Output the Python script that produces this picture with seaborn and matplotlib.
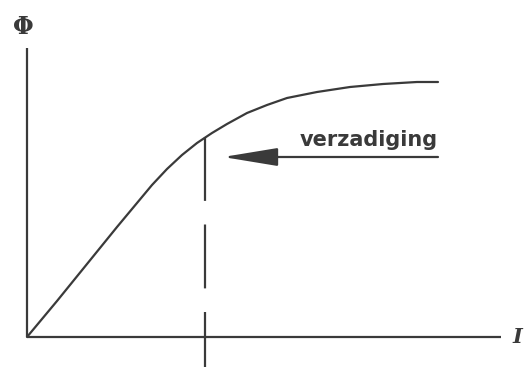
import matplotlib
matplotlib.use("Agg")
import matplotlib.pyplot as plt
import seaborn as sns
import pandas as pd

# Magnetisation curve: current I vs flux Phi (arbitrary units)
current_I = [0, 30, 60, 90, 110, 125, 140, 155, 170, 185, 200, 220, 240, 260, 290, 323, 356, 390, 411]
flux_phi = [0, 36, 73, 110, 134, 152, 168, 182, 194, 204, 213, 224, 232, 239, 245, 250, 253, 255, 255]

saturation_I = 178
saturation_phi = 200
label_text = "verzadiging"
x_label = "I"
y_label = "Φ"

sns.set_style("white")
plt.rcParams['font.family'] = ['DejaVu Sans']
plt.rcParams['lines.scale_dashes'] = False

fig = plt.figure(figsize=(5.28, 3.67), dpi=100)
ax = fig.add_axes([0, 0, 1, 1])
ax.set_xlim(-27, 501)
ax.set_ylim(-30, 337)
ax.axis("off")

col = "#3a3a3a"
lw = 1.6

df = pd.DataFrame({"I": current_I, "Phi": flux_phi})
sns.lineplot(data=df, x="I", y="Phi", ax=ax, color=col, linewidth=lw, sort=False)

# axes
ax.plot([0, 0], [0, 289], color=col, linewidth=lw, solid_capstyle="butt")
ax.plot([0, 474], [0, 0], color=col, linewidth=lw, solid_capstyle="butt")

# dashed saturation line
dl, = ax.plot([saturation_I, saturation_I], [saturation_phi, -30], color=col, linewidth=lw)
dl.set_dashes((46, 17))

# arrow
ax.annotate("", xy=(196, 180), xytext=(411, 180),
            arrowprops=dict(arrowstyle="-|>,head_length=1.7,head_width=0.28",
                            mutation_scale=20, color=col, linewidth=lw,
                            shrinkA=0, shrinkB=0))
ax.text(342, 197, label_text, ha="center", va="center", fontsize=15,
        fontweight="bold", color=col)

ax.text(-4, 310, y_label, ha="center", va="center", fontsize=17,
        fontweight="bold", color=col, family=["DejaVu Serif"])
ax.text(490, 0, x_label, ha="center", va="center", fontsize=15,
        fontweight="bold", style="italic", color=col, family=["DejaVu Serif"])

fig.savefig("out.png", dpi=100, facecolor="white")
